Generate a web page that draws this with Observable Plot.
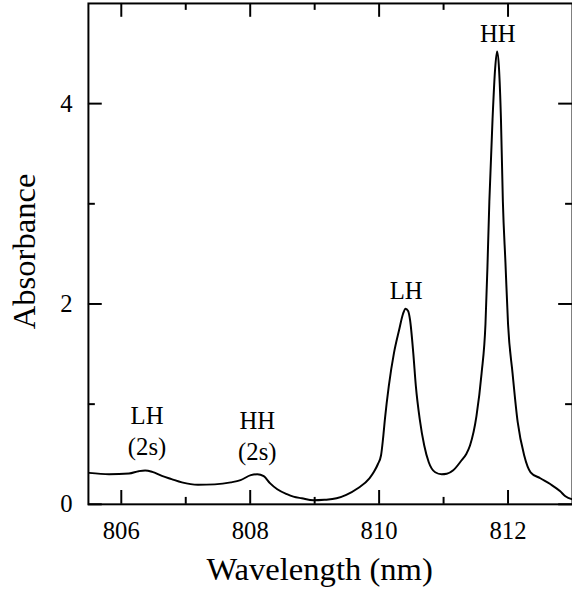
<!DOCTYPE html>
<html><head><meta charset="utf-8">
<script src="https://cdn.jsdelivr.net/npm/d3@7"></script>
<script src="https://cdn.jsdelivr.net/npm/@observablehq/plot@0.6"></script>
<style>
body{margin:0;background:#fff}
#wrap{width:572px;height:599px;overflow:hidden}
#wrap svg, #wrap svg text{font-family:"Liberation Serif", serif !important}
</style>
</head><body><div id="wrap"></div>
<script>
// Absorbance spectrum
const wavelength = [805.50,805.81,806.12,806.27,806.37,806.48,806.63,806.78,806.94,807.19,807.45,807.70,807.85,808.01,808.11,808.21,808.31,808.42,808.57,808.67,808.80,808.98,809.15,809.34,809.49,809.67,809.85,809.92,809.98,810.03,810.06,810.09,810.15,810.23,810.31,810.37,810.41,810.45,810.48,810.53,810.57,810.63,810.70,810.77,810.87,810.97,811.05,811.15,811.28,811.35,811.41,811.51,811.59,811.65,811.68,811.71,811.76,811.80,811.83,811.86,811.89,811.92,811.96,812.00,812.07,812.15,812.25,812.35,812.50,812.66,812.81,812.89,813.00];
const absorbance = [0.314,0.301,0.308,0.331,0.338,0.324,0.284,0.252,0.219,0.195,0.199,0.219,0.242,0.291,0.301,0.281,0.209,0.150,0.101,0.077,0.060,0.040,0.045,0.060,0.094,0.160,0.259,0.324,0.400,0.490,0.650,0.850,1.180,1.510,1.740,1.900,1.953,1.930,1.840,1.510,1.180,0.850,0.587,0.420,0.320,0.300,0.305,0.340,0.440,0.500,0.587,0.880,1.310,1.800,2.360,3.020,3.850,4.350,4.520,4.350,3.850,3.020,2.410,1.800,1.310,0.820,0.490,0.320,0.260,0.200,0.130,0.080,0.050];

const xMajorTicks = [806, 808, 810, 812];
const xMinorTicks = [807, 809, 811];
const yMajorTicks = [0, 2, 4];
const yMinorTicks = [1, 3];

const peakLabels = ["HH", "LH", "LH\n(2s)", "HH\n(2s)"];
const peakX = [811.84, 810.42, 806.40, 808.11];
const peakY = [4.62, 2.05, 0.49, 0.44];

const xLabel = "Wavelength (nm)";
const yLabel = "Absorbance";

const data = wavelength.map((w, i) => ({w, a: absorbance[i]}));
const labels = peakLabels.map((t, i) => ({t, x: peakX[i], y: peakY[i]}));

const FONT = "Liberation Serif";
const W = 579, H = 599, mL = 89, mR = 0, mT = 3, mB = 89;
const innerW = W - mL - mR, innerH = H - mT - mB;
const major = 14, minor = 7;

const chart = Plot.plot({
  width: W, height: H,
  marginLeft: mL, marginRight: mR, marginTop: mT, marginBottom: mB,
  x: {domain: [805.49, 813], axis: null},
  y: {domain: [0, 5], axis: null},
  style: {fontFamily: FONT, color: "black", background: "white"},
  marks: [
    Plot.frame({stroke: "black", strokeWidth: 2}),
    // ticks pointing inward on all four sides
    Plot.ruleX(xMajorTicks, {x: d => d, insetTop: innerH - major, stroke: "black", strokeWidth: 2}),
    Plot.ruleX(xMinorTicks, {x: d => d, insetTop: innerH - minor, stroke: "black", strokeWidth: 2}),
    Plot.ruleX(xMajorTicks, {x: d => d, insetBottom: innerH - major, stroke: "black", strokeWidth: 2}),
    Plot.ruleX(xMinorTicks, {x: d => d, insetBottom: innerH - minor, stroke: "black", strokeWidth: 2}),
    Plot.ruleY(yMajorTicks, {y: d => d, insetRight: innerW - major, stroke: "black", strokeWidth: 2}),
    Plot.ruleY(yMinorTicks, {y: d => d, insetRight: innerW - minor, stroke: "black", strokeWidth: 2}),
    Plot.ruleY(yMajorTicks, {y: d => d, insetLeft: innerW - major, stroke: "black", strokeWidth: 2}),
    Plot.ruleY(yMinorTicks, {y: d => d, insetLeft: innerW - minor, stroke: "black", strokeWidth: 2}),
    Plot.axisX(xMajorTicks, {anchor: "bottom", tickSize: 0, tickPadding: 17, fontSize: 25, fontFamily: FONT, fill: "black", label: null, tickFormat: d => String(d)}),
    Plot.axisY(yMajorTicks, {anchor: "left", tickSize: 0, tickPadding: 16, fontSize: 25, fontFamily: FONT, fill: "black", label: null, tickFormat: d => String(d)}),
    Plot.line(data, {x: "w", y: "a", curve: "monotone-x", stroke: "black", strokeWidth: 2}),
    Plot.text(labels, {x: "x", y: "y", text: "t", fontSize: 25, fontFamily: FONT, lineHeight: 1.28, lineAnchor: "bottom", fill: "black"}),
    Plot.text([xLabel], {frameAnchor: "bottom", textAnchor: "middle", dx: -11, dy: 77, lineAnchor: "bottom", fontSize: 33, fontFamily: FONT, fill: "black"}),
    Plot.text([yLabel], {frameAnchor: "left", textAnchor: "middle", rotate: -90, dx: -54, dy: -2.5, lineAnchor: "bottom", fontSize: 33, fontFamily: FONT, fill: "black"})
  ]
});
document.getElementById("wrap").appendChild(chart);
</script>
</body></html>
